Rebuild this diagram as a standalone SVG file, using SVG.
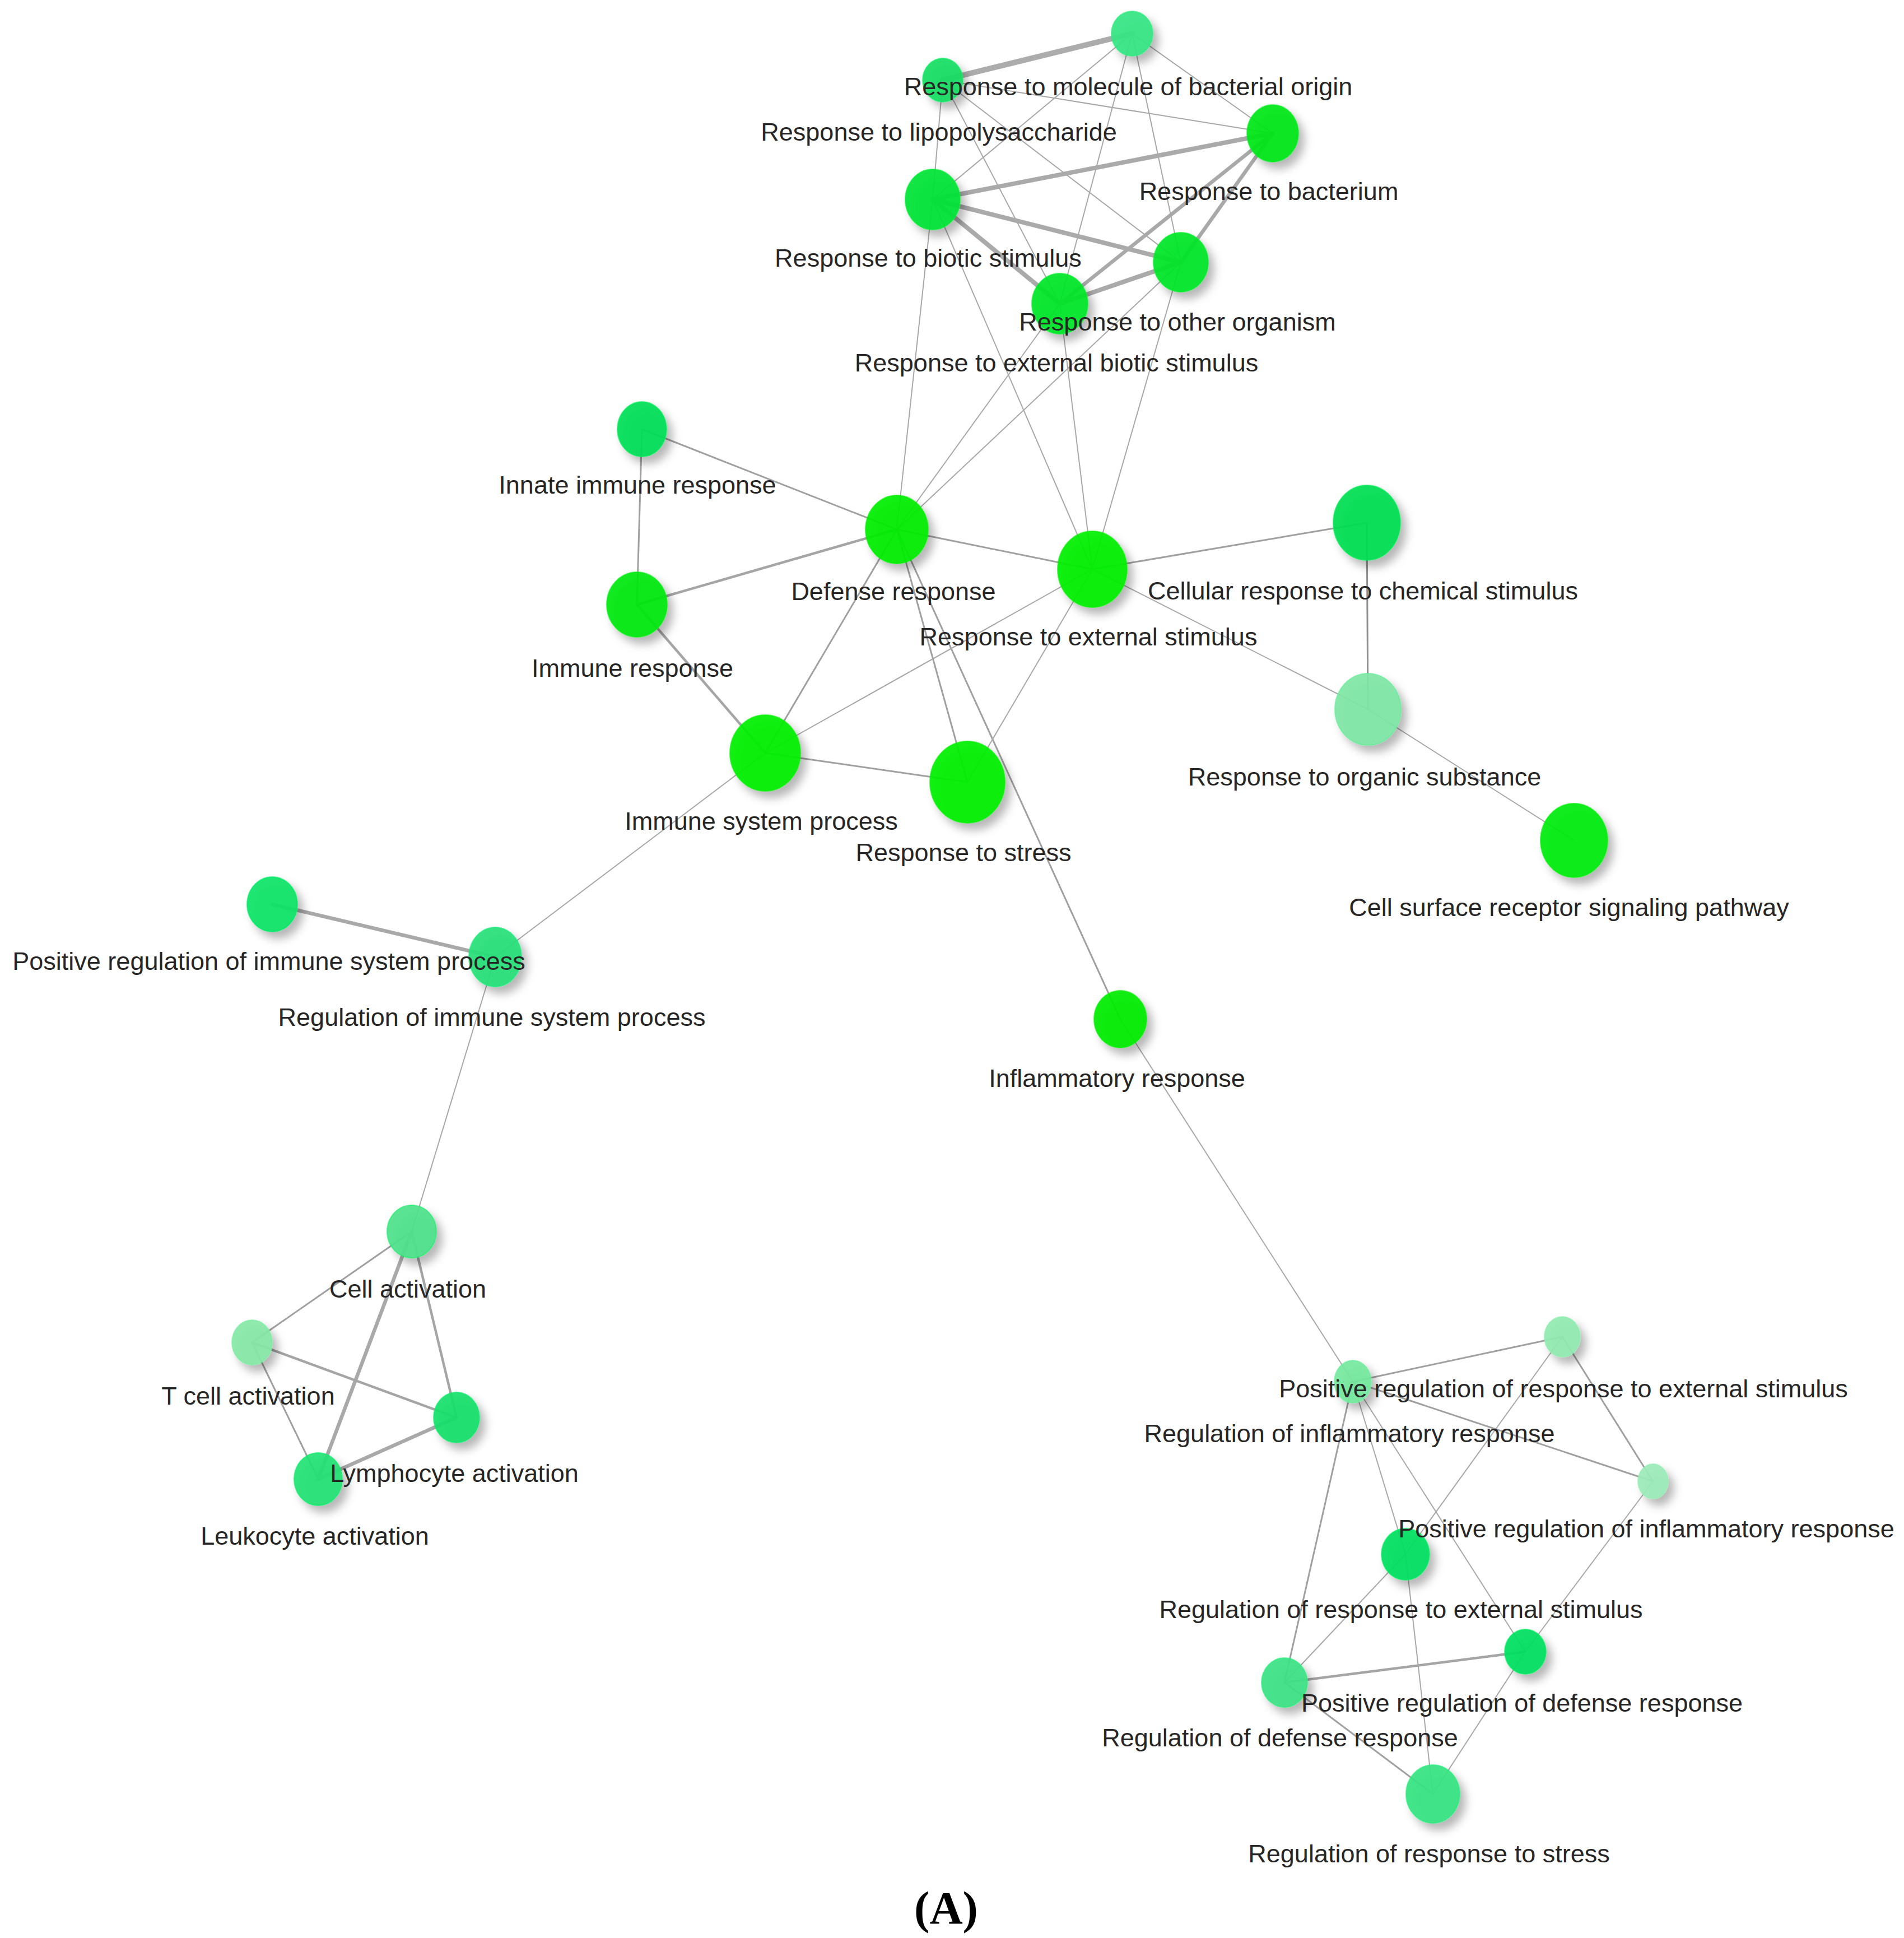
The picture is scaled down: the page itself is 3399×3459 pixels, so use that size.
<svg xmlns="http://www.w3.org/2000/svg" width="3399" height="3459" viewBox="0 0 3399 3459">
<style>
.edge{stroke:#a3a3a3;stroke-linecap:round;fill:none}
.t1{stroke-width:2;stroke:#a8a8a8}
.t2{stroke-width:3;stroke:#a0a0a0}
.t3{stroke-width:4.5;stroke:#a5a5a5}
.t4{stroke-width:6.5;stroke:#a9a9a9}
.t5{stroke-width:8;stroke:#aaaaaa}
.t6{stroke-width:10;stroke:#acacac}
.node ellipse{fill-opacity:0.93;stroke-width:2;stroke-opacity:0.6}
.label{font-family:"Liberation Sans",Arial,sans-serif;font-size:45px;fill:#262626;text-anchor:middle}
.title{font-family:"Liberation Serif","Times New Roman",serif;font-size:82px;font-weight:bold;fill:#000;text-anchor:middle}
</style>
<defs>
<filter id="sh" x="-50%" y="-50%" width="200%" height="200%">
<feDropShadow dx="10" dy="12" stdDeviation="8" flood-color="#000" flood-opacity="0.3"/>
</filter>
</defs>
<rect width="3399" height="3459" fill="#ffffff"/>
<g id="edges">
<line class="edge t6" x1="2021" y1="60" x2="1683" y2="143"/>
<line class="edge t1" x1="2021" y1="60" x2="2272" y2="238"/>
<line class="edge t1" x1="2021" y1="60" x2="1665" y2="356"/>
<line class="edge t1" x1="2021" y1="60" x2="2108" y2="468"/>
<line class="edge t1" x1="2021" y1="60" x2="1892" y2="542"/>
<line class="edge t1" x1="1683" y1="143" x2="2272" y2="238"/>
<line class="edge t1" x1="1683" y1="143" x2="1665" y2="356"/>
<line class="edge t1" x1="1683" y1="143" x2="2108" y2="468"/>
<line class="edge t1" x1="1683" y1="143" x2="1892" y2="542"/>
<line class="edge t5" x1="2272" y1="238" x2="1665" y2="356"/>
<line class="edge t4" x1="2272" y1="238" x2="2108" y2="468"/>
<line class="edge t4" x1="2272" y1="238" x2="1892" y2="542"/>
<line class="edge t5" x1="1665" y1="356" x2="2108" y2="468"/>
<line class="edge t5" x1="1665" y1="356" x2="1892" y2="542"/>
<line class="edge t5" x1="2108" y1="468" x2="1892" y2="542"/>
<line class="edge t1" x1="1665" y1="356" x2="1601" y2="945"/>
<line class="edge t1" x1="2108" y1="468" x2="1601" y2="945"/>
<line class="edge t1" x1="1892" y1="542" x2="1601" y2="945"/>
<line class="edge t1" x1="1665" y1="356" x2="1950" y2="1016"/>
<line class="edge t1" x1="2108" y1="468" x2="1950" y2="1016"/>
<line class="edge t1" x1="1892" y1="542" x2="1950" y2="1016"/>
<line class="edge t2" x1="1146" y1="766" x2="1137" y2="1079"/>
<line class="edge t2" x1="1146" y1="766" x2="1601" y2="945"/>
<line class="edge t3" x1="1137" y1="1079" x2="1601" y2="945"/>
<line class="edge t3" x1="1137" y1="1079" x2="1366" y2="1344"/>
<line class="edge t2" x1="1601" y1="945" x2="1950" y2="1016"/>
<line class="edge t2" x1="1601" y1="945" x2="1366" y2="1344"/>
<line class="edge t2" x1="1601" y1="945" x2="1727" y2="1396"/>
<line class="edge t2" x1="1601" y1="945" x2="2000" y2="1819"/>
<line class="edge t2" x1="1950" y1="1016" x2="2440" y2="933"/>
<line class="edge t1" x1="1950" y1="1016" x2="2442" y2="1266"/>
<line class="edge t1" x1="2442" y1="1266" x2="2810" y2="1500"/>
<line class="edge t2" x1="2440" y1="933" x2="2442" y2="1266" style="stroke:#8f8f8f"/>
<line class="edge t1" x1="1366" y1="1344" x2="1950" y2="1016"/>
<line class="edge t2" x1="1366" y1="1344" x2="1727" y2="1396"/>
<line class="edge t1" x1="1366" y1="1344" x2="884" y2="1708"/>
<line class="edge t1" x1="1727" y1="1396" x2="1950" y2="1016"/>
<line class="edge t4" x1="486" y1="1614" x2="884" y2="1708"/>
<line class="edge t1" x1="884" y1="1708" x2="735" y2="2198"/>
<line class="edge t1" x1="2000" y1="1819" x2="2415" y2="2466"/>
<line class="edge t2" x1="735" y1="2198" x2="450" y2="2396"/>
<line class="edge t3" x1="735" y1="2198" x2="815" y2="2530"/>
<line class="edge t4" x1="735" y1="2198" x2="568" y2="2640"/>
<line class="edge t3" x1="450" y1="2396" x2="815" y2="2530"/>
<line class="edge t2" x1="450" y1="2396" x2="568" y2="2640"/>
<line class="edge t4" x1="815" y1="2530" x2="568" y2="2640"/>
<line class="edge t2" x1="2415" y1="2466" x2="2789" y2="2386"/>
<line class="edge t2" x1="2415" y1="2466" x2="2951" y2="2644"/>
<line class="edge t1" x1="2415" y1="2466" x2="2509" y2="2774"/>
<line class="edge t2" x1="2415" y1="2466" x2="2293" y2="3003"/>
<line class="edge t1" x1="2415" y1="2466" x2="2723" y2="2948"/>
<line class="edge t1" x1="2509" y1="2774" x2="2789" y2="2386"/>
<line class="edge t1" x1="2509" y1="2774" x2="2558" y2="3202"/>
<line class="edge t1" x1="2509" y1="2774" x2="2293" y2="3003"/>
<line class="edge t2" x1="2789" y1="2386" x2="2951" y2="2644"/>
<line class="edge t1" x1="2951" y1="2644" x2="2723" y2="2948"/>
<line class="edge t3" x1="2723" y1="2948" x2="2293" y2="3003"/>
<line class="edge t1" x1="2723" y1="2948" x2="2558" y2="3202"/>
<line class="edge t2" x1="2293" y1="3003" x2="2558" y2="3202"/>
</g>
<g id="nodes" filter="url(#sh)">
<g id="n-molecule-bacterial-origin" class="node"><ellipse cx="2021" cy="60" rx="37" ry="40" fill="#36e584" fill-opacity="0.85" stroke="#22ee77"/></g>
<g id="n-lipopolysaccharide" class="node"><ellipse cx="1683" cy="143" rx="36" ry="39" fill="#14de62" stroke="#11ee66"/></g>
<g id="n-bacterium" class="node"><ellipse cx="2272" cy="238" rx="46" ry="51" fill="#00e61a" stroke="#00ee22"/></g>
<g id="n-biotic-stimulus" class="node"><ellipse cx="1665" cy="356" rx="49" ry="54" fill="#02e436" stroke="#00ee33"/></g>
<g id="n-other-organism" class="node"><ellipse cx="2108" cy="468" rx="49" ry="53" fill="#00e62a" stroke="#00ee2a"/></g>
<g id="n-external-biotic-stimulus" class="node"><ellipse cx="1892" cy="542" rx="50" ry="54" fill="#00e62a" stroke="#00ee2a"/></g>
<g id="n-innate-immune-response" class="node"><ellipse cx="1146" cy="766" rx="44" ry="49" fill="#06df58" stroke="#00ee55"/></g>
<g id="n-defense-response" class="node"><ellipse cx="1601" cy="945" rx="56" ry="61" fill="#00ee00" stroke="#00f000"/></g>
<g id="n-immune-response" class="node"><ellipse cx="1137" cy="1079" rx="54" ry="58" fill="#00e80c" stroke="#00ee10"/></g>
<g id="n-external-stimulus" class="node"><ellipse cx="1950" cy="1016" rx="62" ry="68" fill="#00f000" stroke="#00f000"/></g>
<g id="n-cellular-chemical-stimulus" class="node"><ellipse cx="2440" cy="933" rx="60" ry="67" fill="#04df52" stroke="#00ee55"/></g>
<g id="n-organic-substance" class="node"><ellipse cx="2442" cy="1266" rx="59" ry="64" fill="#80e6a6" fill-opacity="0.85" stroke="#55ee90"/></g>
<g id="n-immune-system-process" class="node"><ellipse cx="1366" cy="1344" rx="63" ry="68" fill="#00f000" stroke="#00f000"/></g>
<g id="n-response-to-stress" class="node"><ellipse cx="1727" cy="1396" rx="67" ry="73" fill="#00f000" stroke="#00f000"/></g>
<g id="n-cell-surface-receptor" class="node"><ellipse cx="2810" cy="1500" rx="60" ry="66" fill="#00ec08" stroke="#00f00a"/></g>
<g id="n-pos-reg-immune" class="node"><ellipse cx="486" cy="1614" rx="45" ry="49" fill="#08e466" stroke="#00ee66"/></g>
<g id="n-reg-immune" class="node"><ellipse cx="884" cy="1708" rx="47" ry="53" fill="#2ae078" fill-opacity="0.88" stroke="#11ee77"/></g>
<g id="n-inflammatory-response" class="node"><ellipse cx="2000" cy="1819" rx="47" ry="51" fill="#00ec00" stroke="#00f000"/></g>
<g id="n-cell-activation" class="node"><ellipse cx="735" cy="2198" rx="44" ry="47" fill="#4de28c" fill-opacity="0.88" stroke="#11ee66"/></g>
<g id="n-t-cell-activation" class="node"><ellipse cx="450" cy="2396" rx="36" ry="40" fill="#86e7a7" fill-opacity="0.85" stroke="#77ee9f"/></g>
<g id="n-lymphocyte-activation" class="node"><ellipse cx="815" cy="2530" rx="41" ry="45" fill="#18e06c" stroke="#00ee66"/></g>
<g id="n-leukocyte-activation" class="node"><ellipse cx="568" cy="2640" rx="43" ry="47" fill="#24e274" stroke="#00ee66"/></g>
<g id="n-pos-reg-response-external" class="node"><ellipse cx="2789" cy="2386" rx="32" ry="36" fill="#92eab0" fill-opacity="0.85" stroke="#88eeaa"/></g>
<g id="n-reg-inflammatory" class="node"><ellipse cx="2415" cy="2466" rx="33" ry="38" fill="#74e89e" fill-opacity="0.85" stroke="#66ee99"/></g>
<g id="n-pos-reg-inflammatory" class="node"><ellipse cx="2951" cy="2644" rx="27" ry="31" fill="#9bebb8" fill-opacity="0.85" stroke="#8eeeb0"/></g>
<g id="n-reg-response-external" class="node"><ellipse cx="2509" cy="2774" rx="43" ry="46" fill="#06e060" stroke="#00ee60"/></g>
<g id="n-pos-reg-defense" class="node"><ellipse cx="2723" cy="2948" rx="37" ry="40" fill="#06e060" stroke="#00ee60"/></g>
<g id="n-reg-defense" class="node"><ellipse cx="2293" cy="3003" rx="41" ry="44" fill="#3ce285" fill-opacity="0.88" stroke="#22ee77"/></g>
<g id="n-reg-response-stress" class="node"><ellipse cx="2558" cy="3202" rx="48" ry="52" fill="#36e482" fill-opacity="0.88" stroke="#22ee77"/></g>
</g>
<g id="labels">
<text class="label" x="2014" y="170">Response to molecule of bacterial origin</text>
<text class="label" x="1676" y="251">Response to lipopolysaccharide</text>
<text class="label" x="2265" y="357">Response to bacterium</text>
<text class="label" x="1657" y="476">Response to biotic stimulus</text>
<text class="label" x="2102" y="590">Response to other organism</text>
<text class="label" x="1886" y="663">Response to external biotic stimulus</text>
<text class="label" x="1138" y="881">Innate immune response</text>
<text class="label" x="1595" y="1071">Defense response</text>
<text class="label" x="1129" y="1208">Immune response</text>
<text class="label" x="1943" y="1152">Response to external stimulus</text>
<text class="label" x="2433" y="1070">Cellular response to chemical stimulus</text>
<text class="label" x="2436" y="1402">Response to organic substance</text>
<text class="label" x="1359" y="1481">Immune system process</text>
<text class="label" x="1720" y="1537">Response to stress</text>
<text class="label" x="2801" y="1635">Cell surface receptor signaling pathway</text>
<text class="label" x="480" y="1731">Positive regulation of immune system process</text>
<text class="label" x="878" y="1831">Regulation of immune system process</text>
<text class="label" x="1994" y="1940">Inflammatory response</text>
<text class="label" x="728" y="2316">Cell activation</text>
<text class="label" x="443" y="2507">T cell activation</text>
<text class="label" x="811" y="2645">Lymphocyte activation</text>
<text class="label" x="562" y="2757">Leukocyte activation</text>
<text class="label" x="2791" y="2494">Positive regulation of response to external stimulus</text>
<text class="label" x="2409" y="2574">Regulation of inflammatory response</text>
<text class="label" x="2939" y="2744">Positive regulation of inflammatory response</text>
<text class="label" x="2501" y="2888">Regulation of response to external stimulus</text>
<text class="label" x="2717" y="3055">Positive regulation of defense response</text>
<text class="label" x="2285" y="3117">Regulation of defense response</text>
<text class="label" x="2551" y="3324">Regulation of response to stress</text>
<text class="title" x="1689" y="3433">(A)</text>
</g>
</svg>
